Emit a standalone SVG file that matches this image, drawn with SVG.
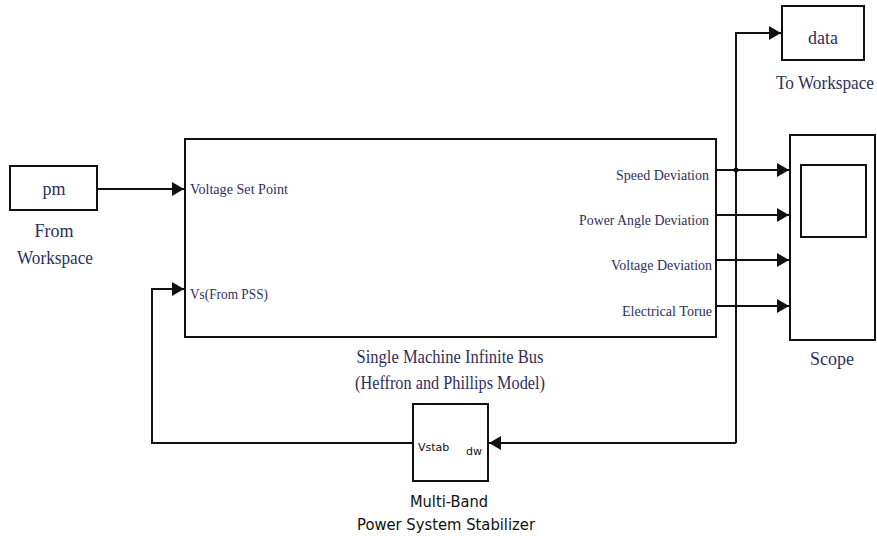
<svg xmlns="http://www.w3.org/2000/svg" width="877" height="536" viewBox="0 0 877 536">
<style>
.blk{fill:#fff;stroke:#111;stroke-width:2}
.ln{fill:none;stroke:#111;stroke-width:2}
.lbl{font-family:"Liberation Serif",serif;fill:#2f2f5c}
.sans{font-family:"DejaVu Sans","Liberation Sans",sans-serif;fill:#111}
</style>
<defs>
<marker id="ah" viewBox="0 0 12 14" refX="12" refY="7" markerWidth="12" markerHeight="14" markerUnits="userSpaceOnUse" orient="auto">
<path d="M0,0 L12,7 L0,14 Z" fill="#111"/>
</marker>
</defs>
<rect width="877" height="536" fill="#fff"/>
<g id="connectors">
<path class="ln" d="M97,189 H184" marker-end="url(#ah)"/>
<path class="ln" d="M716,170 H789" marker-end="url(#ah)"/>
<path class="ln" d="M716,215 H789" marker-end="url(#ah)"/>
<path class="ln" d="M716,260 H789" marker-end="url(#ah)"/>
<path class="ln" d="M716,306 H789" marker-end="url(#ah)"/>
<path class="ln" d="M736,443 V33 H781" marker-end="url(#ah)"/>
<path class="ln" d="M736,443 H489" marker-end="url(#ah)"/>
<path class="ln" d="M413,443 H152 V289 H184" marker-end="url(#ah)"/>
<circle cx="736" cy="170" r="2.5" fill="#111"/>
</g>
<g id="from-workspace">
<rect class="blk" x="10" y="166" width="87" height="44"/>
<text class="lbl" x="54" y="195" font-size="18" text-anchor="middle">pm</text>
<text class="lbl" x="54" y="237" font-size="18" text-anchor="middle">From</text>
<text class="lbl" x="55" y="264" font-size="18" text-anchor="middle" textLength="76" lengthAdjust="spacingAndGlyphs">Workspace</text>
</g>
<g id="smib">
<rect class="blk" x="185" y="139" width="531" height="198"/>
<text class="lbl" x="190" y="194" font-size="15" textLength="98" lengthAdjust="spacingAndGlyphs">Voltage Set Point</text>
<text class="lbl" x="190" y="299" font-size="15" textLength="78" lengthAdjust="spacingAndGlyphs">Vs(From PSS)</text>
<text class="lbl" x="709" y="180" font-size="15" text-anchor="end" textLength="93" lengthAdjust="spacingAndGlyphs">Speed Deviation</text>
<text class="lbl" x="709" y="225" font-size="15" text-anchor="end" textLength="130" lengthAdjust="spacingAndGlyphs">Power Angle Deviation</text>
<text class="lbl" x="712" y="270" font-size="15" text-anchor="end" textLength="101" lengthAdjust="spacingAndGlyphs">Voltage Deviation</text>
<text class="lbl" x="712" y="316" font-size="15" text-anchor="end" textLength="90" lengthAdjust="spacingAndGlyphs">Electrical Torue</text>
<text class="lbl" x="450" y="363" font-size="18" text-anchor="middle" textLength="187" lengthAdjust="spacingAndGlyphs">Single Machine Infinite Bus</text>
<text class="lbl" x="450" y="389" font-size="18" text-anchor="middle" textLength="190" lengthAdjust="spacingAndGlyphs">(Heffron and Phillips Model)</text>
</g>
<g id="to-workspace">
<rect class="blk" x="782" y="6" width="82" height="54"/>
<text class="lbl" x="823" y="44" font-size="18" text-anchor="middle">data</text>
<text class="lbl" x="825" y="89" font-size="18" text-anchor="middle" textLength="98" lengthAdjust="spacingAndGlyphs">To Workspace</text>
</g>
<g id="scope">
<rect class="blk" x="790" y="135" width="85" height="205"/>
<rect class="blk" x="801" y="165" width="65" height="72"/>
<text class="lbl" x="832" y="365" font-size="18" text-anchor="middle">Scope</text>
</g>
<g id="pss">
<rect class="blk" x="413" y="404" width="75" height="77"/>
<text class="sans" x="418" y="451" font-size="11">Vstab</text>
<text class="sans" x="466" y="455" font-size="11">dw</text>
<text class="sans" x="449" y="507" font-size="15" text-anchor="middle" textLength="78" lengthAdjust="spacingAndGlyphs">Multi-Band</text>
<text class="sans" x="446" y="530" font-size="15" text-anchor="middle" textLength="178" lengthAdjust="spacingAndGlyphs">Power System Stabilizer</text>
</g>
</svg>
